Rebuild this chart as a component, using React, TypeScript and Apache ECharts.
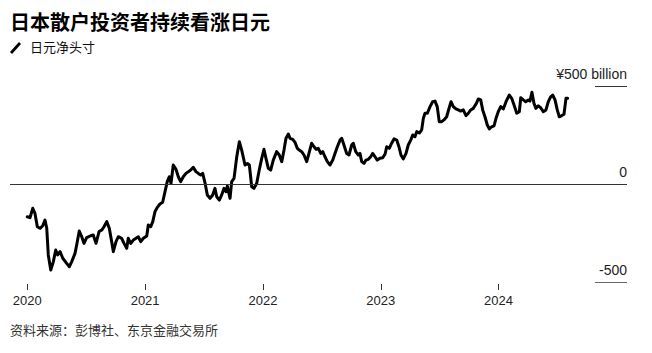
import React, { useEffect, useRef } from "react";
import * as echarts from "echarts";

const TITLE = "日本散户投资者持续看涨日元";
const SUBTITLE = "日元净头寸";
const SOURCE = "资料来源：彭博社、东京金融交易所";

const yearTicks = [2020, 2021, 2022, 2023, 2024];
const yTicks = [-500, 0, 500];

// time in decimal years
const times = [
  2020.000, 2020.023, 2020.046, 2020.065, 2020.085, 2020.108, 2020.131, 2020.150, 2020.165, 2020.178,
  2020.199, 2020.221, 2020.241, 2020.258, 2020.278, 2020.301, 2020.334, 2020.357, 2020.377, 2020.405,
  2020.419, 2020.441, 2020.462, 2020.481, 2020.504, 2020.538, 2020.560, 2020.583, 2020.609, 2020.632,
  2020.651, 2020.674, 2020.696, 2020.716, 2020.730, 2020.753, 2020.773, 2020.801, 2020.821, 2020.844,
  2020.857, 2020.878, 2020.900, 2020.923, 2020.942, 2020.963, 2020.985, 2021.014, 2021.027, 2021.048,
  2021.065, 2021.084, 2021.104, 2021.126, 2021.149, 2021.169, 2021.188, 2021.205, 2021.220, 2021.239,
  2021.262, 2021.282, 2021.302, 2021.324, 2021.347, 2021.367, 2021.387, 2021.409, 2021.432, 2021.452,
  2021.472, 2021.489, 2021.509, 2021.528, 2021.551, 2021.574, 2021.593, 2021.608, 2021.630, 2021.650,
  2021.670, 2021.687, 2021.698, 2021.721, 2021.735, 2021.755, 2021.778, 2021.800, 2021.820, 2021.848,
  2021.868, 2021.885, 2021.905, 2021.924, 2021.947, 2021.969, 2021.990, 2022.009, 2022.026, 2022.046,
  2022.066, 2022.088, 2022.117, 2022.139, 2022.160, 2022.179, 2022.196, 2022.216, 2022.230, 2022.253,
  2022.273, 2022.292, 2022.309, 2022.329, 2022.349, 2022.372, 2022.391, 2022.414, 2022.434, 2022.451,
  2022.470, 2022.491, 2022.508, 2022.527, 2022.547, 2022.570, 2022.593, 2022.612, 2022.632, 2022.655,
  2022.669, 2022.688, 2022.711, 2022.731, 2022.754, 2022.767, 2022.788, 2022.810, 2022.824, 2022.839,
  2022.858, 2022.875, 2022.895, 2022.915, 2022.932, 2022.952, 2022.971, 2022.994, 2023.017, 2023.037,
  2023.051, 2023.073, 2023.093, 2023.113, 2023.136, 2023.155, 2023.172, 2023.192, 2023.215, 2023.234,
  2023.255, 2023.272, 2023.291, 2023.306, 2023.328, 2023.348, 2023.362, 2023.376, 2023.396, 2023.419,
  2023.441, 2023.461, 2023.480, 2023.497, 2023.518, 2023.537, 2023.560, 2023.580, 2023.597, 2023.616,
  2023.639, 2023.659, 2023.679, 2023.701, 2023.724, 2023.744, 2023.764, 2023.786, 2023.809, 2023.829,
  2023.849, 2023.866, 2023.885, 2023.905, 2023.922, 2023.942, 2023.962, 2023.979, 2023.998, 2024.019,
  2024.041, 2024.064, 2024.092, 2024.112, 2024.132, 2024.155, 2024.177, 2024.189, 2024.211, 2024.231,
  2024.253, 2024.267, 2024.284, 2024.301, 2024.318, 2024.338, 2024.358, 2024.380, 2024.403, 2024.423,
  2024.443, 2024.460, 2024.480, 2024.499, 2024.516, 2024.537, 2024.556, 2024.573, 2024.587,
];

// yen net position, ¥ billion
const netPosition = [
  -167, -172, -124, -150, -218, -226, -213, -184, -226, -362,
  -439, -396, -337, -362, -345, -379, -405, -422, -396, -354,
  -311, -240, -269, -303, -274, -264, -260, -303, -243, -235,
  -218, -192, -226, -294, -345, -294, -269, -277, -303, -328,
  -277, -303, -286, -277, -269, -294, -277, -265, -209, -218,
  -192, -141, -119, -102, -93, -39, 12, 37, 3, 97,
  75, 37, 12, 37, 54, 63, 71, 85, 63, 54,
  46, 54, 5, -56, -73, -56, -22, -65, -82, -56,
  -22, -39, -10, -73, 12, 29, 139, 216, 173, 97,
  105, 97, -14, -22, 3, 71, 131, 177, 131, 80,
  71, 122, 165, 148, 114, 173, 233, 255, 233, 228,
  212, 182, 173, 165, 148, 114, 156, 208, 190, 177,
  182, 156, 165, 139, 114, 97, 122, 156, 190, 224,
  233, 199, 156, 148, 199, 208, 165, 148, 156, 114,
  105, 122, 126, 139, 156, 139, 122, 131, 134, 152,
  190, 182, 208, 230, 224, 190, 148, 128, 156, 199,
  224, 250, 241, 267, 260, 276, 335, 361, 361, 395,
  420, 423, 395, 318, 318, 327, 343, 386, 420, 395,
  383, 378, 372, 378, 349, 361, 378, 386, 408, 434,
  429, 378, 343, 301, 281, 292, 297, 335, 369, 395,
  383, 420, 454, 437, 403, 361, 369, 440, 429, 420,
  429, 423, 468, 412, 386, 399, 389, 369, 378, 420,
  445, 454, 429, 378, 343, 349, 356, 437, 437,
];

const X_MIN = 2019.853;
const X_MAX = 2025.091;
const SHORT_START = 2024.819;

const LATIN = "'Liberation Sans', Arial, Helvetica, sans-serif";
const CJK = "'Noto Sans CJK SC', 'Liberation Sans', sans-serif";

export default function App() {
  const ref = useRef<HTMLDivElement>(null);

  useEffect(() => {
    document.body.style.margin = "0";
    if (!ref.current) return;
    const chart = echarts.init(ref.current, undefined, { renderer: "svg" });
    const data = times.map((t, i) => [t, netPosition[i]]);

    const baseGraphics: any[] = [
      {
        type: "line",
        shape: { x1: 11, y1: 53, x2: 20, y2: 43 },
        style: { stroke: "#000", lineWidth: 2.8 },
      },
    ];

    chart.setOption({
      animation: false,
      backgroundColor: "#ffffff",
      title: [
        {
          text: TITLE,
          left: 10,
          top: 11,
          padding: 0,
          textStyle: { fontFamily: CJK, fontSize: 20, fontWeight: "bold", color: "#000" },
        },
        {
          text: SUBTITLE,
          left: 30,
          top: 40,
          padding: 0,
          textStyle: { fontFamily: CJK, fontSize: 13, fontWeight: "normal", color: "#111" },
        },
        {
          text: SOURCE,
          left: 10,
          top: 323,
          padding: 0,
          textStyle: { fontFamily: CJK, fontSize: 13, fontWeight: "normal", color: "#333" },
        },
      ],
      graphic: baseGraphics,
      grid: { left: 10, right: 25, top: 86, bottom: 71, containLabel: false },
      xAxis: {
        type: "value",
        min: X_MIN,
        max: X_MAX,
        axisLine: { show: false },
        splitLine: { show: false },
        axisTick: { show: false },
        axisLabel: {
          customValues: yearTicks,
          margin: 12,
          fontFamily: LATIN,
          fontSize: 13,
          color: "#222",
          formatter: (v: number) => String(Math.round(v)),
        },
      },
      yAxis: {
        type: "value",
        position: "right",
        min: -500,
        max: 500,
        interval: 500,
        axisLine: { show: false },
        axisTick: { show: false },
        splitLine: { show: false },
        axisLabel: {
          inside: true,
          margin: 0,
          align: "right",
          verticalAlign: "bottom",
          padding: [0, 0, 5, 0],
          fontFamily: LATIN,
          fontSize: 14,
          color: "#222",
          formatter: (v: number) => (v === 500 ? "¥500 billion" : String(v)),
        },
      },
      series: [
        {
          type: "line",
          data,
          showSymbol: false,
          symbol: "none",
          lineStyle: { color: "#000", width: 3, join: "round", cap: "round" },
          z: 3,
          markLine: {
            silent: true,
            symbol: "none",
            label: { show: false },
            animation: false,
            data: [
              { yAxis: 0, lineStyle: { color: "#333", width: 1, type: "solid" } },
              [
                { coord: [SHORT_START, yTicks[2]], lineStyle: { color: "#333", width: 1, type: "solid" } },
                { coord: [X_MAX, yTicks[2]] },
              ],
              [
                { coord: [SHORT_START, yTicks[0]], lineStyle: { color: "#666", width: 1, type: "solid" } },
                { coord: [X_MAX, yTicks[0]] },
              ],
            ],
          },
        },
      ],
    });

    // year ticks below the plot, positioned through the axis scale
    const tickGraphics = yearTicks.map((yr) => {
      const p = chart.convertToPixel({ gridIndex: 0 }, [yr, yTicks[0]]) as number[];
      const x = Math.round(p[0]) + 0.5;
      return {
        type: "line",
        shape: { x1: x, y1: p[1] + 2, x2: x, y2: p[1] + 8 },
        style: { stroke: "#333", lineWidth: 1 },
      };
    });
    chart.setOption({ graphic: [...baseGraphics, ...tickGraphics] });

    return () => chart.dispose();
  }, []);

  return <div ref={ref} style={{ width: 652, height: 353 }} />;
}
